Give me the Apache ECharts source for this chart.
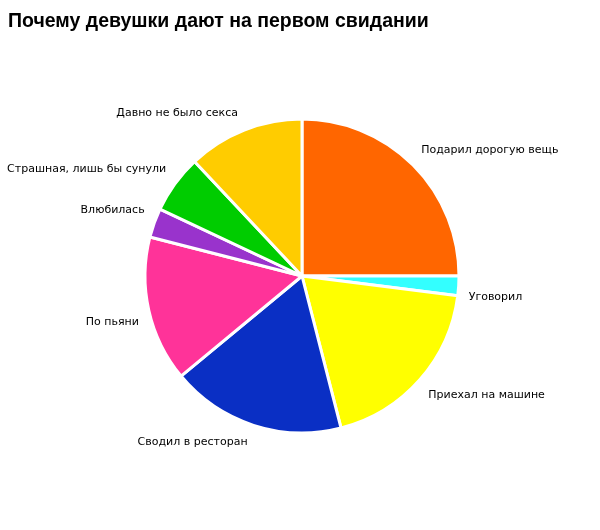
<!DOCTYPE html>
<html><head><meta charset="utf-8">
<script src="https://cdn.jsdelivr.net/npm/echarts@6/dist/echarts.min.js"></script>
<style>html,body{margin:0;padding:0;background:#fff}#c{width:600px;height:530px}</style>
</head><body><div id="c"></div>
<script>
const titleText = 'Почему девушки дают на первом свидании';
const categories = ['Подарил дорогую вещь','Уговорил','Приехал на машине','Сводил в ресторан','По пьяни','Влюбилась','Страшная, лишь бы сунули','Давно не было секса'];
const values = [25, 2, 19, 18, 15, 3, 6, 12];
const colors = ['#FF6600','#33FFFF','#FFFF00','#0A2FC4','#FF3399','#9933CC','#00CC00','#FFCC00'];

const centerY = 276;
const chart = echarts.init(document.getElementById('c'));
chart.setOption({
  animation: false,
  backgroundColor: '#fff',
  title: {text: titleText, left: 3, top: 7,
    textStyle: {fontFamily: 'Liberation Sans', fontWeight: 'bold', fontSize: 19.5, color: '#000'}},
  series: [{
    type: 'pie',
    center: [302, centerY],
    radius: 157,
    startAngle: 90,
    clockwise: true,
    data: categories.map((n, i) => ({name: n, value: values[i], itemStyle: {color: colors[i]}})),
    itemStyle: {borderColor: '#fff', borderWidth: 3},
    label: {show: true, position: 'outside', color: '#000', fontFamily: 'DejaVu Sans', fontSize: 11,
      formatter: '{b}', overflow: 'none', edgeDistance: 0, distanceToLabelLine: 2},
    labelLine: {show: false, length: 6, length2: 2},
    labelLayout: function (p) {
      const cy = p.labelRect.y + p.labelRect.height / 2;
      return {dy: cy < centerY ? -11 : 11};
    },
    emphasis: {disabled: true}
  }]
});
</script></body></html>
